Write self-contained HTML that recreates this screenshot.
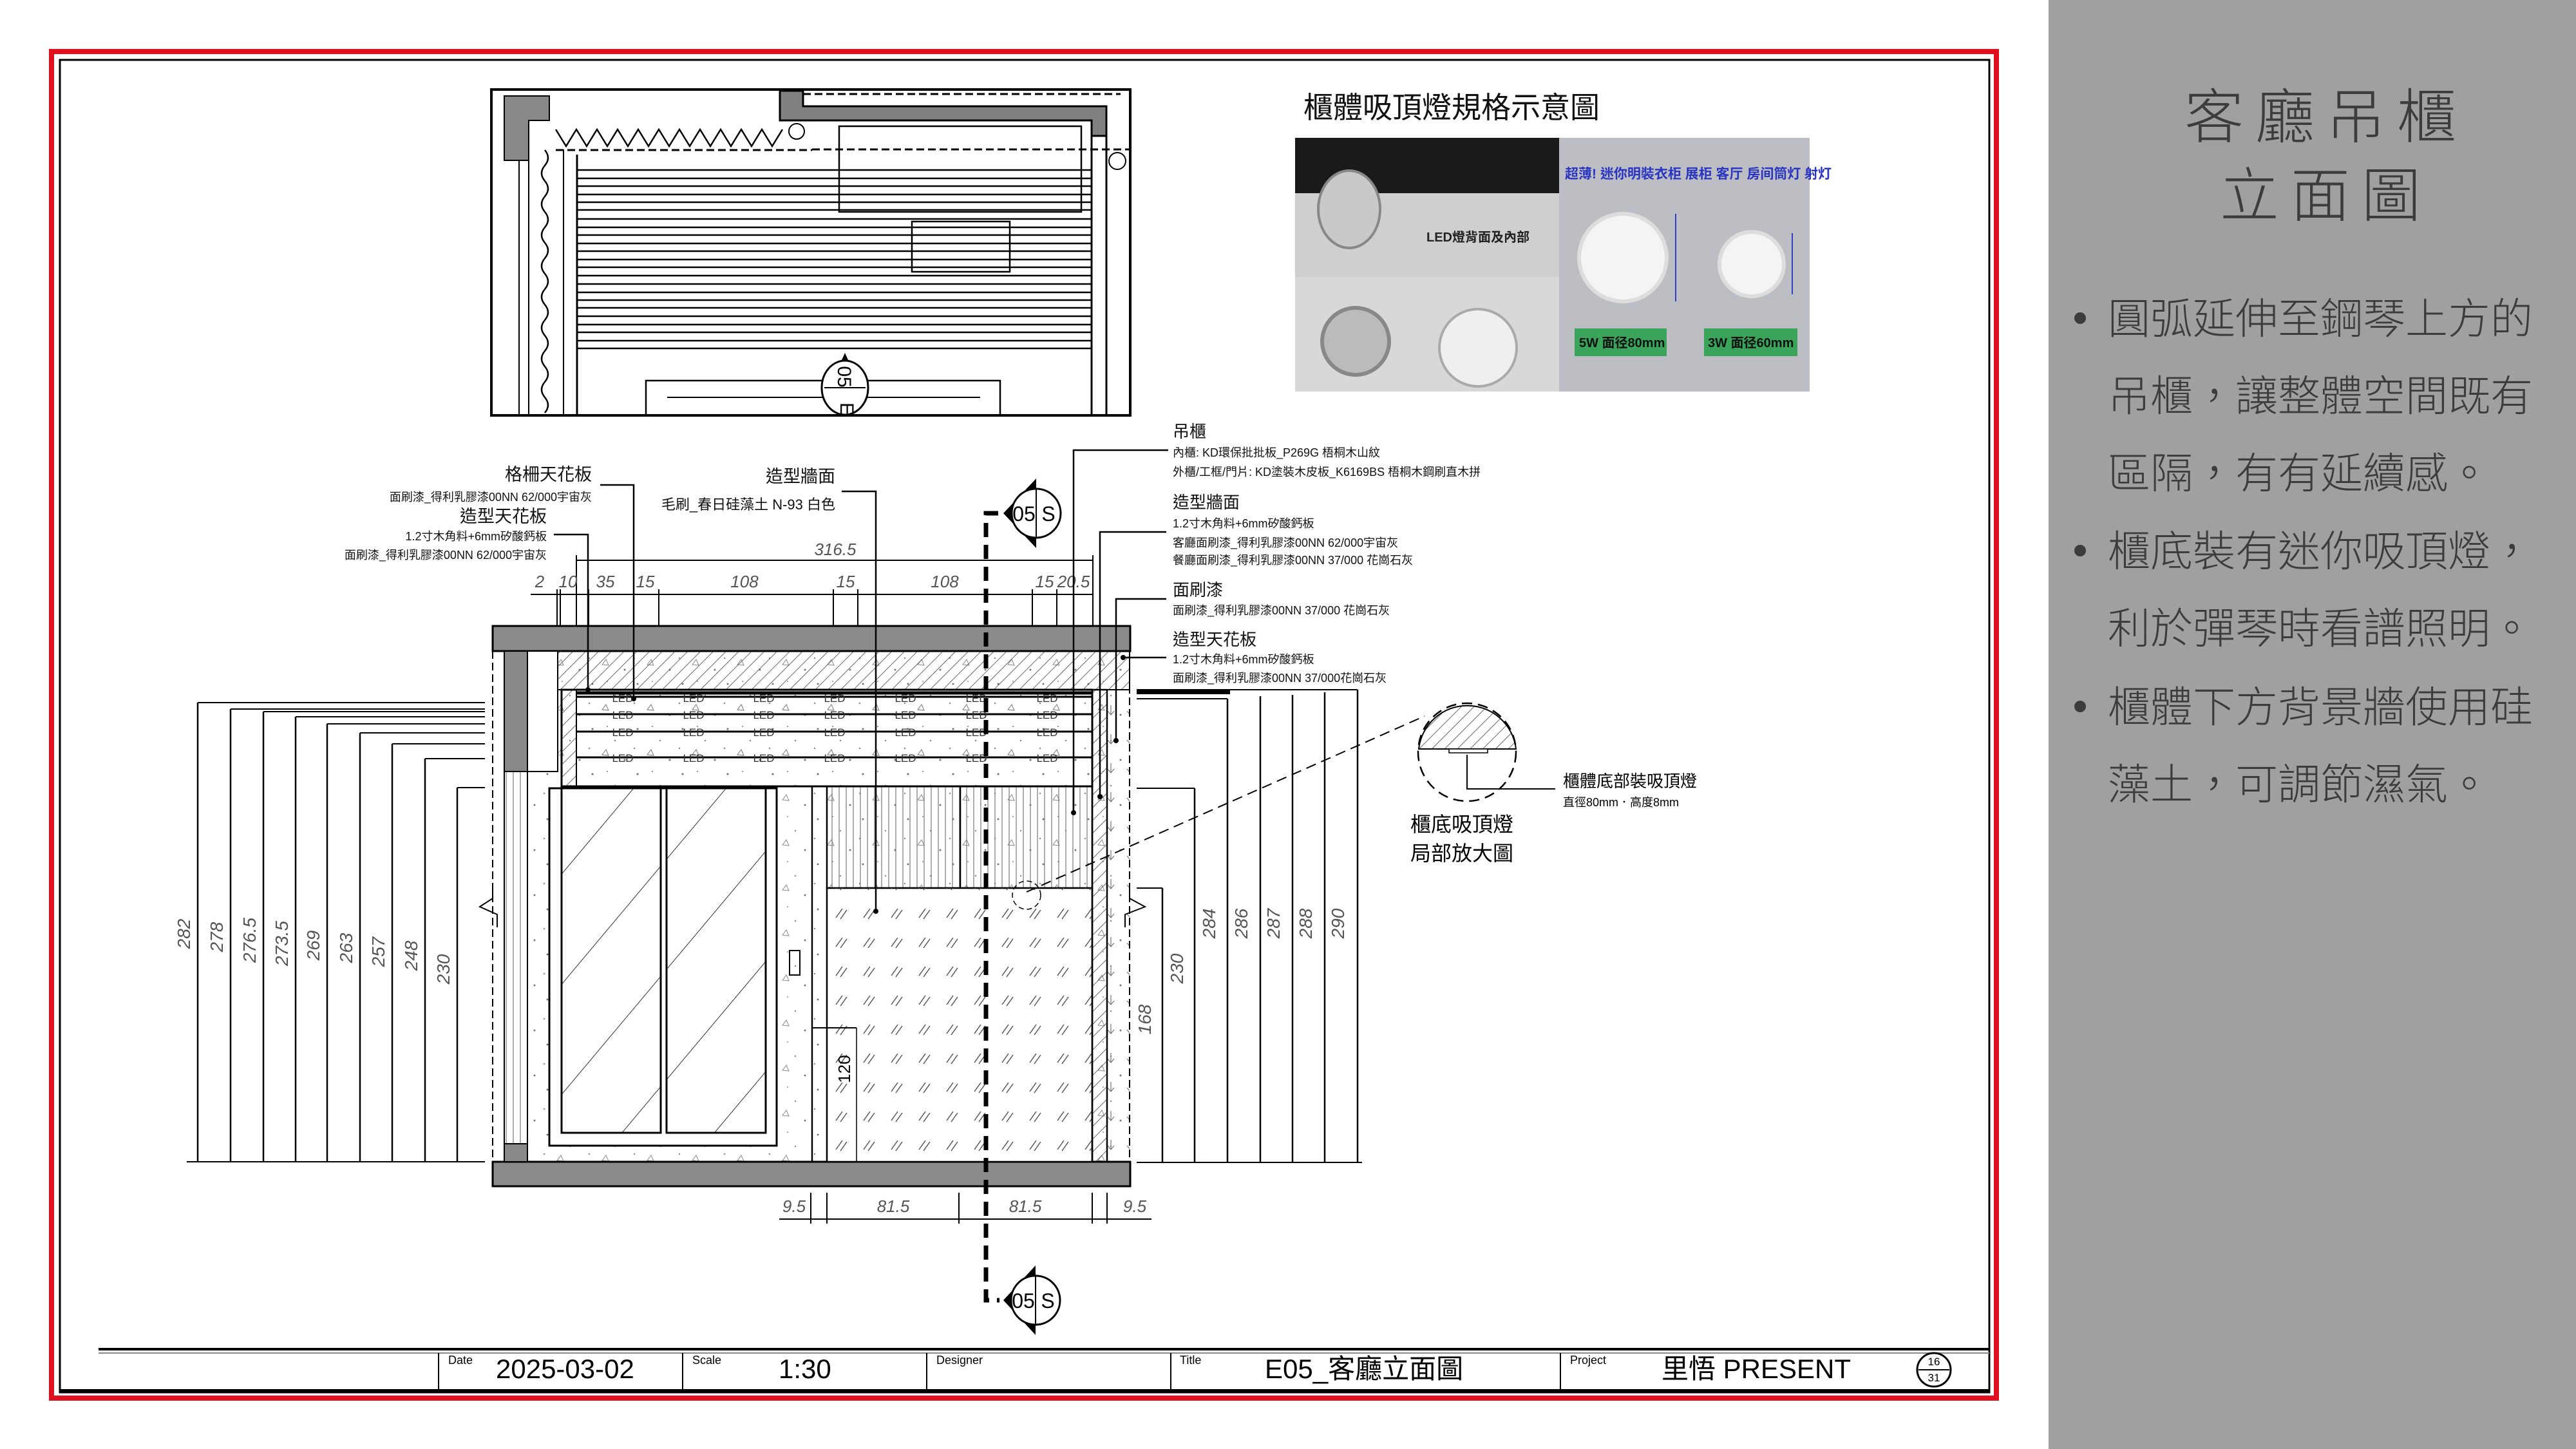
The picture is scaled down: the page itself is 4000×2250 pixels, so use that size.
<!DOCTYPE html>
<html><head><meta charset="utf-8"><style>
html,body{margin:0;padding:0;background:#fff}
svg{display:block}
text{font-family:"Liberation Sans","Noto Sans CJK TC",sans-serif}
</style></head><body>
<svg width="4000" height="2250" viewBox="0 0 4000 2250" xmlns="http://www.w3.org/2000/svg">
<defs>
<pattern id="h45" width="14" height="14" patternUnits="userSpaceOnUse" patternTransform="rotate(45)"><line x1="0" y1="0" x2="0" y2="14" stroke="#444" stroke-width="1.6"/></pattern>
<pattern id="glass" width="110" height="110" patternUnits="userSpaceOnUse" patternTransform="rotate(40)"><line x1="0" y1="0" x2="0" y2="110" stroke="#333" stroke-width="2"/></pattern>
<pattern id="speck" width="70" height="70" patternUnits="userSpaceOnUse"><circle cx="10" cy="12" r="1.5" fill="#777"/><circle cx="45" cy="30" r="1.2" fill="#888"/><path d="M25 52 l6 -8 l4 9z" fill="none" stroke="#888" stroke-width="1"/><circle cx="60" cy="60" r="1.5" fill="#777"/><circle cx="33" cy="8" r="1" fill="#888"/><circle cx="5" cy="42" r="1.2" fill="#888"/></pattern>
<pattern id="slat" width="11" height="20" patternUnits="userSpaceOnUse"><line x1="5" y1="0" x2="5" y2="20" stroke="#777" stroke-width="1.2"/></pattern>
<pattern id="diat" width="43" height="45" patternUnits="userSpaceOnUse"><path d="M8 30 l10 -14 M15 32 l10 -14" stroke="#555" stroke-width="1.5"/></pattern>
<pattern id="arr" width="30" height="45" patternUnits="userSpaceOnUse"><path d="M15 15 v14 M10 24 l5 6 l5 -6" stroke="#777" stroke-width="1.2" fill="none"/></pattern>
</defs>

<rect x="3181" y="0" width="819" height="2250" fill="#a0a0a0"/>
<text x="3612" y="214" font-size="92" fill="#3c3c3c" text-anchor="middle" letter-spacing="18" font-weight="300">客廳吊櫃</text>
<text x="3612" y="336" font-size="92" fill="#3c3c3c" text-anchor="middle" letter-spacing="18" font-weight="300">立面圖</text>
<g font-size="66" fill="#3c3c3c" font-weight="300">
<circle cx="3230" cy="494" r="9" fill="#3c3c3c"/>
<text x="3273" y="518">圓弧延伸至鋼琴上方的</text>
<text x="3273" y="638">吊櫃，讓整體空間既有</text>
<text x="3273" y="758">區隔，有有延續感。</text>
<circle cx="3230" cy="855" r="9" fill="#3c3c3c"/>
<text x="3273" y="879">櫃底裝有迷你吸頂燈，</text>
<text x="3273" y="999">利於彈琴時看譜照明。</text>
<circle cx="3230" cy="1097" r="9" fill="#3c3c3c"/>
<text x="3273" y="1121">櫃體下方背景牆使用硅</text>
<text x="3273" y="1241">藻土，可調節濕氣。</text>
</g>

<rect x="80" y="80" width="3020" height="2091" fill="none" stroke="#e01020" stroke-width="8"/>
<rect x="93" y="93" width="2996" height="2069" fill="none" stroke="#000" stroke-width="3"/>

<line x1="153" y1="2095" x2="3089" y2="2095" stroke="#000" stroke-width="4"/>
<line x1="153" y1="2101" x2="3089" y2="2101" stroke="#888" stroke-width="2"/>
<line x1="93" y1="2160" x2="3089" y2="2160" stroke="#000" stroke-width="6"/>
<g stroke="#000" stroke-width="2"><line x1="681" y1="2101" x2="681" y2="2158"/><line x1="1060" y1="2101" x2="1060" y2="2158"/><line x1="1439" y1="2101" x2="1439" y2="2158"/><line x1="1818" y1="2101" x2="1818" y2="2158"/><line x1="2423" y1="2101" x2="2423" y2="2158"/></g>
<g font-size="18" fill="#000"><text x="696" y="2118">Date</text><text x="1075" y="2118">Scale</text><text x="1454" y="2118">Designer</text><text x="1832" y="2118">Title</text><text x="2438" y="2118">Project</text></g>
<g font-size="42" fill="#000"><text x="770" y="2140">2025-03-02</text><text x="1209" y="2140">1:30</text><text x="1964" y="2140">E05_客廳立面圖</text><text x="2580" y="2140">里悟 PRESENT</text></g>
<circle cx="3003" cy="2127" r="26" fill="none" stroke="#000" stroke-width="3"/><line x1="2979" y1="2127" x2="3027" y2="2127" stroke="#000" stroke-width="2"/>
<text x="3003" y="2120" font-size="17" text-anchor="middle">16</text><text x="3003" y="2145" font-size="17" text-anchor="middle">31</text>

<g stroke="#000" fill="none" stroke-width="3">
<rect x="763" y="139" width="992" height="506" stroke-width="4"/>
<g stroke-width="2.5">
<line x1="896" y1="264" x2="1695" y2="264"/><line x1="896" y1="277" x2="1695" y2="277"/><line x1="896" y1="289" x2="1695" y2="289"/><line x1="896" y1="302" x2="1695" y2="302"/><line x1="896" y1="314" x2="1695" y2="314"/><line x1="896" y1="326" x2="1695" y2="326"/><line x1="896" y1="340" x2="1695" y2="340"/><line x1="896" y1="353" x2="1695" y2="353"/><line x1="896" y1="365" x2="1695" y2="365"/><line x1="896" y1="378" x2="1695" y2="378"/><line x1="896" y1="390" x2="1695" y2="390"/><line x1="896" y1="403" x2="1695" y2="403"/><line x1="896" y1="415" x2="1695" y2="415"/><line x1="896" y1="428" x2="1695" y2="428"/><line x1="896" y1="441" x2="1695" y2="441"/><line x1="896" y1="454" x2="1695" y2="454"/><line x1="896" y1="466" x2="1695" y2="466"/><line x1="896" y1="478" x2="1695" y2="478"/><line x1="896" y1="491" x2="1695" y2="491"/><line x1="896" y1="504" x2="1695" y2="504"/><line x1="896" y1="516" x2="1695" y2="516"/><line x1="896" y1="529" x2="1695" y2="529"/><line x1="896" y1="541" x2="1695" y2="541"/>
</g>
<line x1="896" y1="240" x2="896" y2="645"/><line x1="1695" y1="211" x2="1695" y2="645"/><line x1="1718" y1="211" x2="1718" y2="645"/>
<line x1="863" y1="233" x2="1261" y2="233" stroke-dasharray="12 6"/>
<line x1="1261" y1="232" x2="1755" y2="232" stroke-dasharray="12 6"/>
<line x1="1247" y1="146" x2="1740" y2="146" stroke-dasharray="12 6"/>
<rect x="1303" y="196" width="376" height="133" stroke-width="2.5"/>
<rect x="1416" y="344" width="152" height="78" stroke-width="2.5"/>
<line x1="821" y1="249" x2="821" y2="645" stroke-width="2"/><line x1="806" y1="249" x2="806" y2="645" stroke-width="2"/>
<line x1="875" y1="232" x2="875" y2="645" stroke-width="2"/>
<path d="M863 201 L879 227 L895 201 L911 227 L927 201 L943 227 L959 201 L975 227 L991 201 L1007 227 L1023 201 L1039 227 L1055 201 L1071 227 L1087 201 L1103 227 L1119 201 L1135 227 L1151 201 L1167 227 L1183 201 L1199 227 L1215 201" stroke-width="2.5"/>
<path d="M846 233 q10 12 0 24 q-10 12 0 24 q10 12 0 24 q-10 12 0 24 q10 12 0 24 q-10 12 0 24 q10 12 0 24 q-10 12 0 24 q10 12 0 24 q-10 12 0 24 q10 12 0 24 q-10 12 0 24 q10 12 0 24 q-10 12 0 24 q10 12 0 24 q-10 12 0 24 q10 12 0 24" stroke-width="2.5"/>
<rect x="1003" y="591" width="550" height="54" stroke-width="2.5"/>
<line x1="1036" y1="617" x2="1522" y2="617" stroke-width="2"/>
<circle cx="1237" cy="204" r="12" stroke-width="2"/><circle cx="1735" cy="250" r="13" stroke-width="2"/>
</g>
<path d="M783 149 L853 149 L853 187 L821 187 L821 249 L783 249 Z" fill="#888" stroke="#000" stroke-width="2"/>
<path d="M1211 141 L1247 141 L1247 165 L1718 165 L1718 211 L1695 211 L1695 187 L1211 187 Z" fill="#808080" stroke="#000" stroke-width="3"/>
<path d="M1280 618 L1312 548 L1344 618 Z" fill="#000"/>
<ellipse cx="1312" cy="602" rx="36" ry="42" fill="#fff" stroke="#000" stroke-width="3"/>
<line x1="1280" y1="602" x2="1344" y2="602" stroke="#000" stroke-width="2"/>
<text x="1312" y="596" font-size="30" text-anchor="middle" transform="rotate(90 1312 585)">05</text>
<text x="1322" y="632" font-size="30" text-anchor="middle" transform="rotate(90 1312 625)">E</text>

<text x="2024" y="183" font-size="46" fill="#111">櫃體吸頂燈規格示意圖</text>
<rect x="2011" y="214" width="410" height="101" fill="#1a1a1a"/>
<rect x="2011" y="300" width="410" height="130" fill="#cfcfcf"/>
<ellipse cx="2095" cy="325" rx="48" ry="60" fill="#c9c9c9" stroke="#888" stroke-width="4"/>
<text x="2215" y="375" font-size="20" font-weight="bold" fill="#222">LED燈背面及內部</text>
<rect x="2011" y="430" width="410" height="178" fill="#d8d8d8"/>
<circle cx="2105" cy="530" r="52" fill="#bbb" stroke="#888" stroke-width="6"/>
<circle cx="2295" cy="540" r="60" fill="#efefef" stroke="#aaa" stroke-width="4"/>
<rect x="2421" y="214" width="389" height="394" fill="#bdbec3"/>
<text x="2430" y="277" font-size="21" font-weight="bold" fill="#2a35c0">超薄! 迷你明裝衣柜 展柜 客厅 房间筒灯 射灯</text>
<circle cx="2520" cy="400" r="68" fill="#f4f4f4" stroke="#ddd" stroke-width="6"/>
<circle cx="2720" cy="410" r="50" fill="#f4f4f4" stroke="#ddd" stroke-width="6"/>
<line x1="2602" y1="332" x2="2602" y2="468" stroke="#3040c0" stroke-width="2"/>
<line x1="2783" y1="362" x2="2783" y2="457" stroke="#3040c0" stroke-width="2"/>
<rect x="2445" y="510" width="143" height="43" fill="#3aa55a"/><text x="2452" y="539" font-size="20" font-weight="bold" fill="#111">5W 面径80mm</text>
<rect x="2646" y="510" width="145" height="43" fill="#3aa55a"/><text x="2652" y="539" font-size="20" font-weight="bold" fill="#111">3W 面径60mm</text>

<rect x="819" y="1011" width="935" height="793" fill="url(#speck)"/>
<rect x="765" y="972" width="990" height="39" fill="#8a8a8a" stroke="#000" stroke-width="3"/>
<rect x="765" y="1804" width="990" height="38" fill="#8a8a8a" stroke="#000" stroke-width="3"/>
<rect x="866" y="1011" width="888" height="60" fill="url(#h45)" stroke="#000" stroke-width="2"/>
<rect x="783" y="1011" width="36" height="187" fill="#888" stroke="#000" stroke-width="2"/>
<rect x="783" y="1198" width="36" height="578" fill="url(#slat)" stroke="#000" stroke-width="2"/>
<rect x="783" y="1776" width="36" height="28" fill="#888" stroke="#000" stroke-width="2"/>
<rect x="819" y="1011" width="47" height="187" fill="#fff" stroke="#000" stroke-width="2"/>
<line x1="765" y1="1011" x2="765" y2="1804" stroke="#000" stroke-width="2" stroke-dasharray="12 6"/>
<rect x="872" y="1071" width="824" height="150" fill="url(#speck)" stroke="#000" stroke-width="3"/>
<rect x="872" y="1071" width="23" height="150" fill="url(#h45)" stroke="#000" stroke-width="2"/>
<g stroke="#000" stroke-width="3"><line x1="895" y1="1076" x2="1696" y2="1076" stroke-width="5"/><line x1="895" y1="1082" x2="1696" y2="1082"/><line x1="895" y1="1109" x2="1696" y2="1109"/><line x1="895" y1="1136" x2="1696" y2="1136"/><line x1="895" y1="1176" x2="1696" y2="1176"/></g>
<g font-size="17" fill="#333" text-anchor="middle">
<text x="967" y="1090">LED</text><text x="1077" y="1090">LED</text><text x="1186" y="1090">LED</text><text x="1296" y="1090">LED</text><text x="1406" y="1090">LED</text><text x="1516" y="1090">LED</text><text x="1626" y="1090">LED</text>
<text x="967" y="1116">LED</text><text x="1077" y="1116">LED</text><text x="1186" y="1116">LED</text><text x="1296" y="1116">LED</text><text x="1406" y="1116">LED</text><text x="1516" y="1116">LED</text><text x="1626" y="1116">LED</text>
<text x="967" y="1143">LED</text><text x="1077" y="1143">LED</text><text x="1186" y="1143">LED</text><text x="1296" y="1143">LED</text><text x="1406" y="1143">LED</text><text x="1516" y="1143">LED</text><text x="1626" y="1143">LED</text>
<text x="967" y="1183">LED</text><text x="1077" y="1183">LED</text><text x="1186" y="1183">LED</text><text x="1296" y="1183">LED</text><text x="1406" y="1183">LED</text><text x="1516" y="1183">LED</text><text x="1626" y="1183">LED</text>
</g>
<rect x="853" y="1224" width="353" height="555" fill="#fff" stroke="#000" stroke-width="3"/>
<rect x="872" y="1224" width="154" height="535" fill="url(#glass)" stroke="#000" stroke-width="3"/>
<rect x="1035" y="1224" width="154" height="535" fill="url(#glass)" stroke="#000" stroke-width="3"/>
<line x1="1261" y1="1221" x2="1261" y2="1804" stroke="#000" stroke-width="2.5"/>
<rect x="1284" y="1221" width="412" height="158" fill="url(#slat)" stroke="#000" stroke-width="2.5"/>
<line x1="1491" y1="1221" x2="1491" y2="1379" stroke="#000" stroke-width="2.5"/>
<rect x="1284" y="1379" width="412" height="425" fill="#fff" stroke="#000" stroke-width="2.5"/>
<rect x="1284" y="1379" width="412" height="425" fill="url(#diat)"/>
<rect x="1696" y="1071" width="23" height="733" fill="url(#h45)" stroke="#000" stroke-width="2.5"/>
<rect x="1719" y="1071" width="35" height="733" fill="url(#arr)"/>
<line x1="1754" y1="1011" x2="1754" y2="1804" stroke="#000" stroke-width="2" stroke-dasharray="12 6"/>
<line x1="1261" y1="1596" x2="1330" y2="1596" stroke="#000" stroke-width="2"/><line x1="1330" y1="1596" x2="1330" y2="1804" stroke="#000" stroke-width="1.5"/>
<rect x="1226" y="1476" width="16" height="38" fill="none" stroke="#000" stroke-width="2"/>
<text x="1320" y="1660" font-size="26" transform="rotate(-90 1320 1660)" text-anchor="middle">120</text>
<path d="M765 1380 L765 1395 L745 1408 L772 1420 L772 1440" fill="none" stroke="#000" stroke-width="2"/>
<path d="M1754 1380 L1754 1395 L1778 1408 L1747 1420 L1747 1440" fill="none" stroke="#000" stroke-width="2"/>
<path d="M1550 797 L1531 797 L1531 2019 L1552 2019" fill="none" stroke="#000" stroke-width="7" stroke-dasharray="22 12"/>
<path d="M1558 797 L1609 743 L1609 851 Z" fill="#000"/>
<circle cx="1609" cy="797" r="38" fill="#fff" stroke="#000" stroke-width="3"/>
<line x1="1609" y1="759" x2="1609" y2="835" stroke="#000" stroke-width="2"/>
<text x="1590" y="809" font-size="32" text-anchor="middle">05</text><text x="1628" y="809" font-size="32" text-anchor="middle">S</text>
<path d="M1558 2019 L1608 1965 L1608 2073 Z" fill="#000"/>
<circle cx="1608" cy="2019" r="38" fill="#fff" stroke="#000" stroke-width="3"/>
<line x1="1608" y1="1981" x2="1608" y2="2057" stroke="#000" stroke-width="2"/>
<text x="1589" y="2031" font-size="32" text-anchor="middle">05</text><text x="1627" y="2031" font-size="32" text-anchor="middle">S</text>

<g stroke="#000" stroke-width="2">
<line x1="895" y1="870" x2="1697" y2="870"/>
<line x1="824" y1="923" x2="1697" y2="923"/>
<line x1="865" y1="915" x2="865" y2="972"/><line x1="870" y1="915" x2="870" y2="972"/><line x1="895" y1="862" x2="895" y2="972"/><line x1="914" y1="915" x2="914" y2="972"/><line x1="984" y1="915" x2="984" y2="972"/><line x1="1023" y1="915" x2="1023" y2="972"/><line x1="1294" y1="915" x2="1294" y2="972"/><line x1="1332" y1="915" x2="1332" y2="972"/><line x1="1603" y1="915" x2="1603" y2="972"/><line x1="1641" y1="915" x2="1641" y2="972"/><line x1="1697" y1="862" x2="1697" y2="972"/>
</g>
<g font-size="26" fill="#555" text-anchor="middle" font-style="italic">
<text x="1297" y="862">316.5</text>
<text x="838" y="912">2</text><text x="882" y="912">10</text><text x="940" y="912">35</text><text x="1002" y="912">15</text><text x="1156" y="912">108</text><text x="1313" y="912">15</text><text x="1467" y="912">108</text><text x="1622" y="912">15</text><text x="1667" y="912">20.5</text>
</g>
<g stroke="#000" stroke-width="2">
<line x1="1210" y1="1893" x2="1788" y2="1893"/>
<line x1="1259" y1="1852" x2="1259" y2="1900"/><line x1="1284" y1="1852" x2="1284" y2="1900"/><line x1="1489" y1="1852" x2="1489" y2="1900"/><line x1="1696" y1="1852" x2="1696" y2="1900"/><line x1="1719" y1="1852" x2="1719" y2="1900"/>
</g>
<g font-size="26" fill="#555" text-anchor="middle" font-style="italic"><text x="1233" y="1882">9.5</text><text x="1387" y="1882">81.5</text><text x="1592" y="1882">81.5</text><text x="1762" y="1882">9.5</text></g>

<g stroke="#000" stroke-width="2.5">
<line x1="290" y1="1804" x2="753" y2="1804" stroke-width="2"/>
<line x1="307" y1="1091" x2="307" y2="1804"/><line x1="307" y1="1091" x2="753" y2="1091" stroke-width="2"/>
<line x1="358" y1="1101" x2="358" y2="1804"/><line x1="358" y1="1101" x2="753" y2="1101" stroke-width="2"/>
<line x1="409" y1="1105" x2="409" y2="1804"/><line x1="409" y1="1105" x2="753" y2="1105" stroke-width="2"/>
<line x1="459" y1="1113" x2="459" y2="1804"/><line x1="459" y1="1113" x2="753" y2="1113" stroke-width="2"/>
<line x1="508" y1="1124" x2="508" y2="1804"/><line x1="508" y1="1124" x2="753" y2="1124" stroke-width="2"/>
<line x1="559" y1="1138" x2="559" y2="1804"/><line x1="559" y1="1138" x2="753" y2="1138" stroke-width="2"/>
<line x1="609" y1="1155" x2="609" y2="1804"/><line x1="609" y1="1155" x2="753" y2="1155" stroke-width="2"/>
<line x1="660" y1="1178" x2="660" y2="1804"/><line x1="660" y1="1178" x2="753" y2="1178" stroke-width="2"/>
<line x1="710" y1="1223" x2="710" y2="1804"/><line x1="710" y1="1223" x2="753" y2="1223" stroke-width="2"/>
</g>
<g font-size="28" fill="#555" text-anchor="middle" font-style="italic">
<text x="295" y="1450" transform="rotate(-90 295 1450)">282</text>
<text x="346" y="1455" transform="rotate(-90 346 1455)">278</text>
<text x="397" y="1460" transform="rotate(-90 397 1460)">276.5</text>
<text x="447" y="1465" transform="rotate(-90 447 1465)">273.5</text>
<text x="496" y="1468" transform="rotate(-90 496 1468)">269</text>
<text x="547" y="1472" transform="rotate(-90 547 1472)">263</text>
<text x="597" y="1478" transform="rotate(-90 597 1478)">257</text>
<text x="648" y="1484" transform="rotate(-90 648 1484)">248</text>
<text x="698" y="1505" transform="rotate(-90 698 1505)">230</text>
</g>
<g stroke="#000" stroke-width="2.5">
<line x1="1765" y1="1805" x2="2115" y2="1805" stroke-width="2"/>
<line x1="1765" y1="1379" x2="1805" y2="1379" stroke-width="2"/><line x1="1805" y1="1379" x2="1805" y2="1805"/>
<line x1="1765" y1="1224" x2="1855" y2="1224" stroke-width="2"/><line x1="1855" y1="1224" x2="1855" y2="1805"/>
<line x1="1765" y1="1075" x2="1910" y2="1075" stroke-width="6"/>
<line x1="1765" y1="1085" x2="1906" y2="1085" stroke-width="2"/><line x1="1906" y1="1085" x2="1906" y2="1805"/>
<line x1="1957" y1="1081" x2="1957" y2="1805"/><line x1="2007" y1="1079" x2="2007" y2="1805"/>
<line x1="1765" y1="1071" x2="2108" y2="1071" stroke-width="2"/>
<line x1="2057" y1="1075" x2="2057" y2="1805"/><line x1="2108" y1="1071" x2="2108" y2="1805"/>
</g>
<g font-size="28" fill="#555" text-anchor="middle" font-style="italic">
<text x="1796" y="1592" transform="rotate(-90 1787 1592)">168</text>
<text x="1846" y="1513" transform="rotate(-90 1837 1513)">230</text>
<text x="1896" y="1443" transform="rotate(-90 1887 1443)">284</text>
<text x="1946" y="1443" transform="rotate(-90 1937 1443)">286</text>
<text x="1996" y="1443" transform="rotate(-90 1987 1443)">287</text>
<text x="2046" y="1443" transform="rotate(-90 2037 1443)">288</text>
<text x="2096" y="1443" transform="rotate(-90 2087 1443)">290</text>
</g>

<line x1="1594" y1="1385" x2="2212" y2="1112" stroke="#000" stroke-width="2" stroke-dasharray="16 9"/>
<circle cx="1594" cy="1390" r="22" fill="none" stroke="#000" stroke-width="1.5" stroke-dasharray="8 5"/>
<path d="M2203 1163 A76 76 0 0 1 2354 1163 Z" fill="url(#h45)" stroke="#000" stroke-width="2"/>
<circle cx="2278" cy="1168" r="76" fill="none" stroke="#000" stroke-width="2.5" stroke-dasharray="16 9"/>
<rect x="2250" y="1163" width="60" height="6" fill="#fff" stroke="#000" stroke-width="1.5"/>
<path d="M2278 1172 L2278 1225 L2415 1225" fill="none" stroke="#000" stroke-width="2"/>
<text x="2427" y="1222" font-size="26">櫃體底部裝吸頂燈</text>
<text x="2427" y="1252" font-size="18">直徑80mm．高度8mm</text>
<text x="2190" y="1291" font-size="32">櫃底吸頂燈</text>
<text x="2190" y="1336" font-size="32">局部放大圖</text>

<g fill="#111">
<text x="919" y="746" font-size="27" text-anchor="end">格柵天花板</text>
<text x="919" y="778" font-size="18" text-anchor="end">面刷漆_得利乳膠漆00NN 62/000宇宙灰</text>
<text x="849" y="811" font-size="27" text-anchor="end">造型天花板</text>
<text x="849" y="839" font-size="18" text-anchor="end">1.2寸木角料+6mm矽酸鈣板</text>
<text x="849" y="868" font-size="18" text-anchor="end">面刷漆_得利乳膠漆00NN 62/000宇宙灰</text>
<text x="1297" y="749" font-size="27" text-anchor="end">造型牆面</text>
<text x="1297" y="791" font-size="22" text-anchor="end">毛刷_春日硅藻土 N-93 白色</text>
</g>
<g stroke="#000" stroke-width="2.5" fill="none">
<path d="M932 753 L984 753 L984 1085"/>
<path d="M860 830 L913 830 L913 1071"/>
<path d="M1307 763 L1360 763 L1360 1415"/>
<path d="M1814 699 L1667 699 L1667 1262"/>
<path d="M1811 826 L1708 826 L1708 1237"/>
<path d="M1811 930 L1733 930 L1733 1150"/>
<path d="M1811 1021 L1744 1021"/>
</g>
<g fill="#000"><circle cx="984" cy="1085" r="4"/><circle cx="913" cy="1071" r="4"/><circle cx="1360" cy="1415" r="4"/><circle cx="1667" cy="1262" r="4"/><circle cx="1708" cy="1237" r="4"/><circle cx="1733" cy="1150" r="4"/><circle cx="1744" cy="1021" r="4"/></g>
<g fill="#111">
<text x="1821" y="679" font-size="26">吊櫃</text>
<text x="1821" y="709" font-size="18">內櫃: KD環保批批板_P269G 梧桐木山紋</text>
<text x="1821" y="739" font-size="18">外櫃/工框/門片: KD塗裝木皮板_K6169BS 梧桐木鋼刷直木拼</text>
<text x="1821" y="789" font-size="26">造型牆面</text>
<text x="1821" y="819" font-size="18">1.2寸木角料+6mm矽酸鈣板</text>
<text x="1821" y="849" font-size="18">客廳面刷漆_得利乳膠漆00NN 62/000宇宙灰</text>
<text x="1821" y="876" font-size="18">餐廳面刷漆_得利乳膠漆00NN 37/000 花崗石灰</text>
<text x="1821" y="925" font-size="26">面刷漆</text>
<text x="1821" y="954" font-size="18">面刷漆_得利乳膠漆00NN 37/000 花崗石灰</text>
<text x="1821" y="1002" font-size="26">造型天花板</text>
<text x="1821" y="1030" font-size="18">1.2寸木角料+6mm矽酸鈣板</text>
<text x="1821" y="1059" font-size="18">面刷漆_得利乳膠漆00NN 37/000花崗石灰</text>
</g>
</svg>
</body></html>
